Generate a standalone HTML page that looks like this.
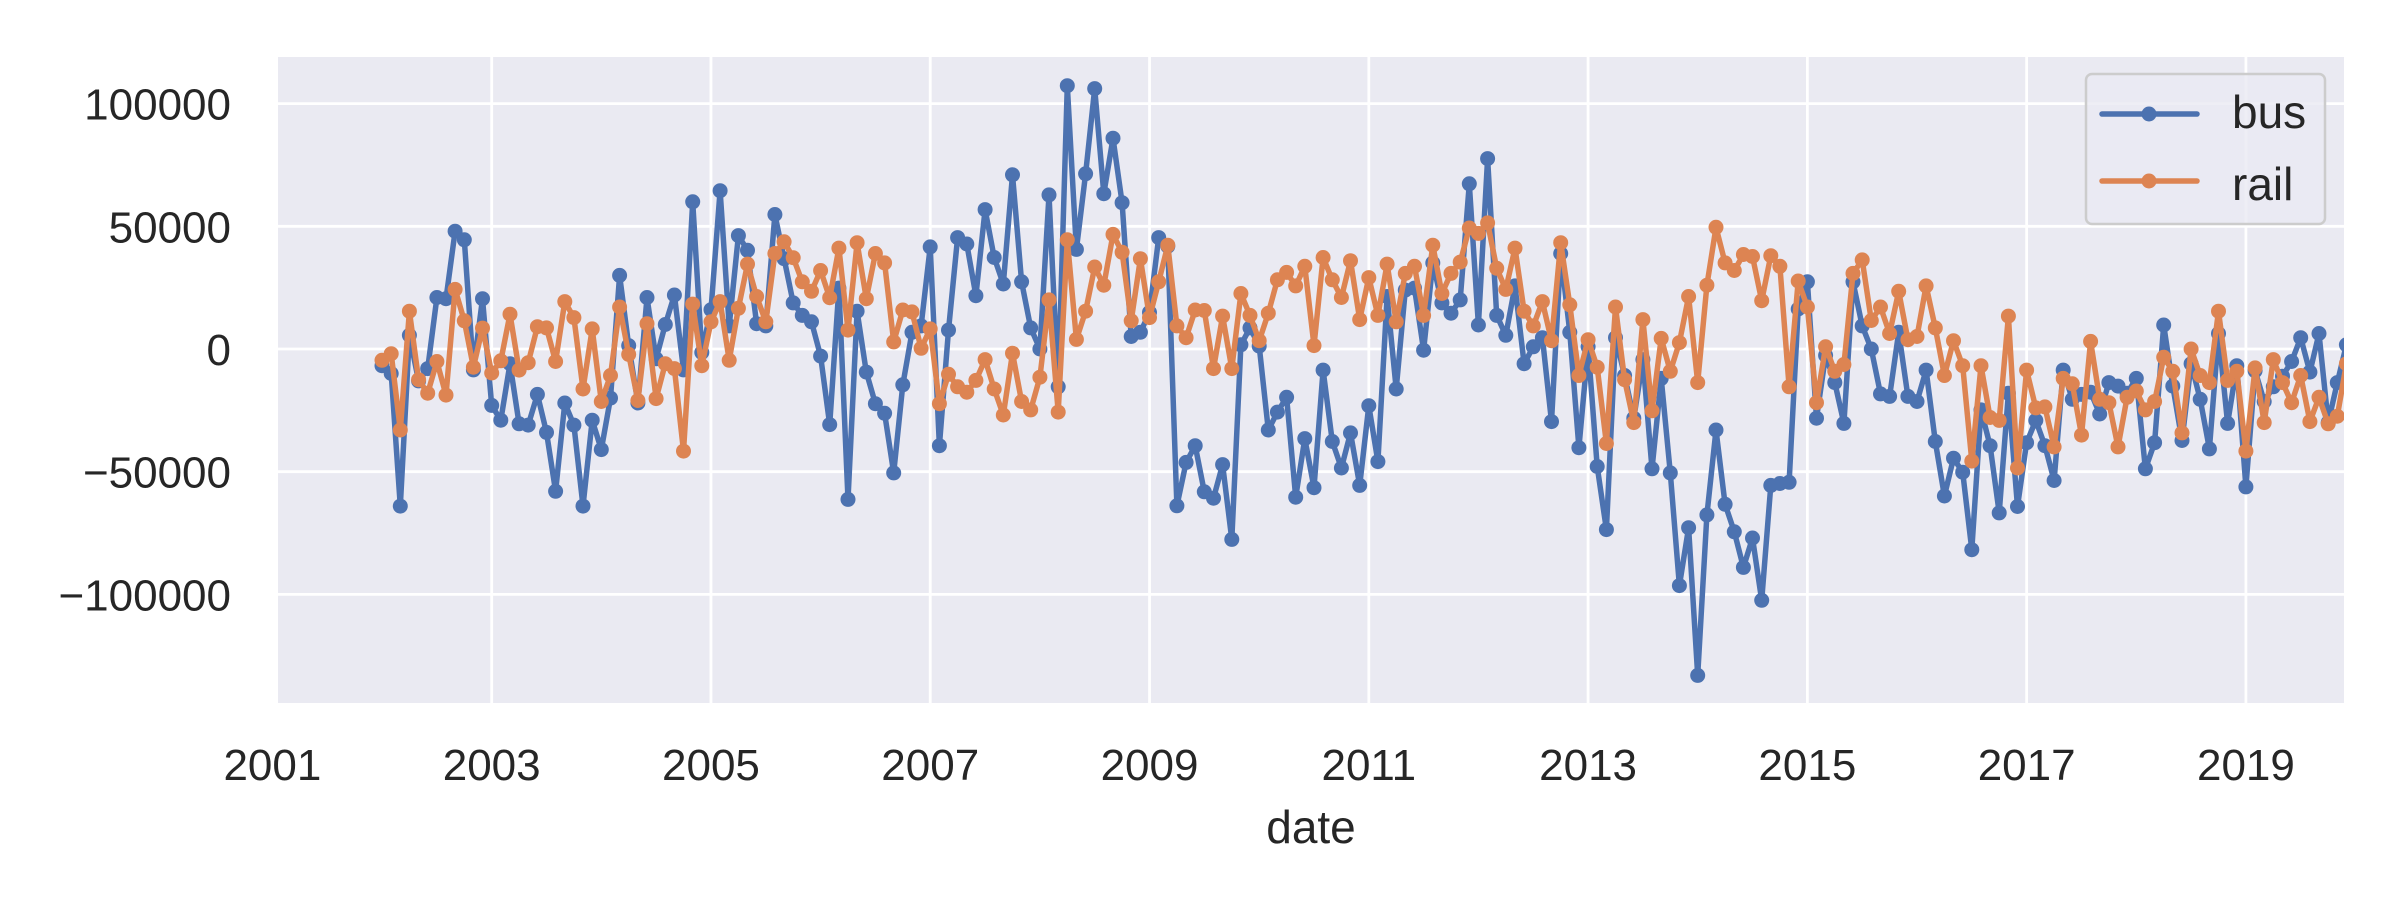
<!DOCTYPE html>
<html><head><meta charset="utf-8">
<style>
html,body{margin:0;padding:0;background:#fff;}
svg{display:block;font-family:"Liberation Sans",sans-serif;}
</style></head>
<body>
<svg id="chart" width="2400" height="900" viewBox="0 0 2400 900" xmlns="http://www.w3.org/2000/svg">
<defs><clipPath id="pc"><rect x="278" y="57" width="2066" height="646"/></clipPath></defs>
<rect x="278" y="57" width="2066" height="646" fill="#eaeaf2"/>
<g id="grid"></g>
<g id="yticks"></g>
<g id="xticks"></g>
<g id="series" clip-path="url(#pc)"></g>
<text x="1311" y="843" font-size="46" fill="#262626" text-anchor="middle">date</text>
<g>
<rect x="2086" y="74" width="239" height="150" rx="6" fill="#eaeaf2" fill-opacity="0.8" stroke="#cccccc" stroke-width="2.5"/>
<g>
<line x1="2102" y1="114" x2="2197" y2="114" stroke="#4c72b0" stroke-width="5.5" stroke-linecap="round"/>
<circle cx="2149" cy="114" r="7.5" fill="#4c72b0"/>
<text x="2232" y="128" font-size="46" fill="#262626">bus</text>
</g>
<g>
<line x1="2102" y1="181" x2="2197" y2="181" stroke="#dd8452" stroke-width="5.5" stroke-linecap="round"/>
<circle cx="2149" cy="181" r="7.5" fill="#dd8452"/>
<text x="2232" y="200" font-size="46" fill="#262626">rail</text>
</g>
</g>
</svg>
<script>
const startYear = 2002;
const yTicks = [100000, 50000, 0, -50000, -100000];
const yTickLabels = ["100000", "50000", "0", "\u221250000", "\u2212100000"];
const xTicks = [2001, 2003, 2005, 2007, 2009, 2011, 2013, 2015, 2017, 2019];
const busValues = [-6800,-10000,-64000,5600,-13000,-8000,21000,20500,48000,44500,-8500,20500,-23000,-29000,-6000,-30500,-31000,-18500,-34000,-58000,-22000,-31000,-64000,-29000,-41000,-20000,30000,1400,-22000,21000,-4000,10000,22000,-8500,60000,-1400,16000,64500,
9400,46200,40200,10300,9400,54800,36800,18800,13700,11100,-2900,-30800,24800,-61300,15400,-9400,-22300,-26200,-50500,-14600,6800,9400,41600,-39400,7700,45400,42800,21700,56800,37300,26500,71000,27400,8600,0,62800,-15400,
107300,40600,71400,106100,63300,85900,59600,5100,6800,14900,45400,41900,-63900,-46200,-39400,-58200,-60800,-47100,-77600,1700,8600,1200,-33000,-25700,-19700,-60400,-36500,-56500,-8600,-37700,-48500,-34200,-55600,-23100,-45900,21400,-16300,
24000,24800,-500,35100,18800,14600,20000,67300,9800,77600,13700,5600,25700,-6000,900,4600,-29600,38900,6800,-40200,900,-47900,-73600,4600,-10800,-28200,-4300,-48800,-12000,-50500,-96400,-72800,-133000,-67600,-33000,-63300,-74500,-89000,
-77000,-102400,-55600,-54800,-54300,16300,27400,-28200,-2600,-13700,-30300,27400,9400,0,-18300,-19300,6800,-19300,-21400,-8600,-37700,-59900,-44500,-50200,-81800,-24800,-39400,-66800,-18000,-64200,-38200,-29100,-39400,-53600,-8600,-20500,
-18500,-17600,-26500,-13700,-15100,-18000,-12000,-48800,-38200,9800,-15100,-37300,-6000,-20500,-40700,6300,-30300,-6800,-56200,-8900,-21400,-15400,-11100,-5100,4600,-9400,6300,-30000,-13700,1700];
const railValues = [-4600,-1900,-33000,15400,-12500,-18000,-5100,-18800,24300,11500,-7400,8500,-9800,-4800,14200,-8600,-5600,9100,8600,-5100,19300,12800,-16300,8200,-21400,-10800,17100,-2200,-21000,10300,-20200,-6000,-8000,-41600,18300,-6800,11100,19300,
-4600,16600,34600,21400,11100,38900,43700,37200,27400,23500,32000,20900,41100,7700,43300,20500,38900,35100,2900,15900,15100,300,8200,-22300,-10300,-15400,-17600,-12800,-4300,-16300,-26900,-1700,-21400,-24800,-11500,20000,-25700,
44500,3900,15400,33400,26000,46700,39400,11500,36800,12800,27400,42300,9400,4600,15900,15700,-8000,13400,-8000,22600,13700,3400,14600,28200,31200,25700,33700,1400,37300,28200,21000,36000,12000,29100,13700,34600,11100,
30800,33700,13700,42300,22600,30800,35400,49300,47100,51400,32900,24300,41100,15400,9400,19300,3400,43300,18000,-10800,3800,-7400,-38500,17100,-12500,-30000,12000,-25200,4300,-9100,2600,21400,-13700,26000,49600,35100,32000,38500,
37700,19700,38000,33700,-15400,27700,17100,-21900,900,-9100,-6300,30800,36300,11600,17100,6300,23500,3800,5100,25700,8600,-10800,3400,-6800,-45700,-6800,-27900,-29100,13400,-48500,-8600,-24000,-23600,-39900,-12000,-14200,
-35100,3100,-20500,-21900,-39900,-19700,-17100,-24800,-21400,-3400,-9100,-34200,0,-10800,-13700,15400,-12800,-9100,-41600,-7700,-30000,-4300,-13700,-21900,-10800,-29600,-19700,-30500,-27400,-6000];

const NS = "http://www.w3.org/2000/svg";
function xScale(year){ return 272.4 + (year - 2001) * 109.64; }
function yScale(v){ return 349 - v * 245.4 / 100000; }
function mk(tag, attrs, parent){ const e = document.createElementNS(NS, tag); for (const k in attrs) e.setAttribute(k, attrs[k]); parent.appendChild(e); return e; }

const grid = document.getElementById('grid');
const yt = document.getElementById('yticks');
const xt = document.getElementById('xticks');
yTicks.forEach((v, i) => {
  const y = yScale(v);
  const l = mk('line', {x1: 278, x2: 2344, y1: y, y2: y, stroke: '#fff', 'stroke-width': 2.8}, grid);
  
  
  const t = mk('text', {x: 231, y: y + 16, 'font-size': 44, fill: '#262626', 'text-anchor': 'end'}, yt);
  t.textContent = yTickLabels[i];
  
  
});
xTicks.forEach(yr => {
  const x = xScale(yr);
  if (x >= 278) {
    const l = mk('line', {x1: x, x2: x, y1: 57, y2: 703, stroke: '#fff', 'stroke-width': 2.8}, grid);
    
    
  }
  const t = mk('text', {x: x, y: 780, 'font-size': 44, fill: '#262626', 'text-anchor': 'middle'}, xt);
  t.textContent = String(yr);
  
  
});

const series = document.getElementById('series');
function draw(vals, color, name){
  const g = mk('g', {}, series);
  
  
  const pts = vals.map((v, i) => [xScale(startYear + i / 12), yScale(v)]);
  const p = mk('polyline', {points: pts.map(p => p[0].toFixed(1) + ',' + p[1].toFixed(1)).join(' '), fill: 'none', stroke: color, 'stroke-width': 5.5, 'stroke-linejoin': 'round'}, g);
  
  
  pts.forEach(pt => {
    const c = mk('circle', {cx: pt[0].toFixed(1), cy: pt[1].toFixed(1), r: 7.5, fill: color}, g);
    
    
  });
}
draw(busValues, '#4c72b0', 'bus');
draw(railValues, '#dd8452', 'rail');
</script>
</body></html>
